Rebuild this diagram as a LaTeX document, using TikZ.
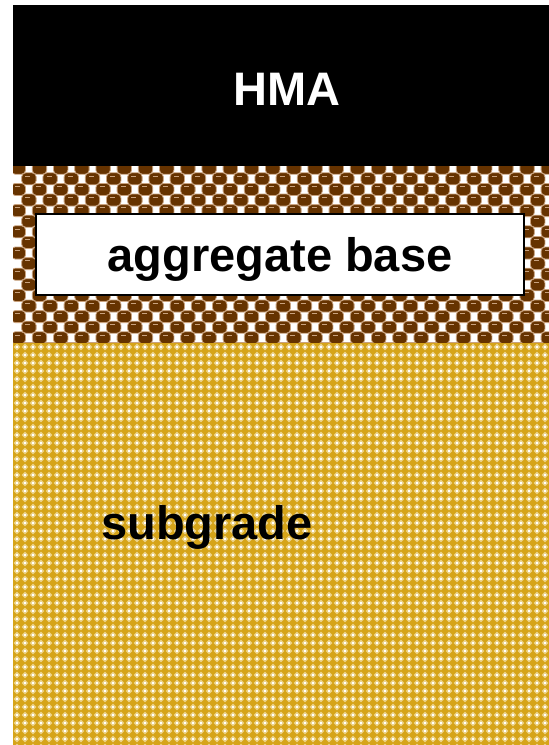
\documentclass[tikz,border=0pt]{standalone}
\usepackage{fontspec}
\setmainfont{Liberation Sans}
\definecolor{hmablack}{HTML}{000000}
\definecolor{basebrown}{HTML}{663300}
\definecolor{basetan}{HTML}{C9A27E}
\definecolor{subgold}{HTML}{D6A419}
\definecolor{subpale}{HTML}{EDD38A}
\tikzset{
  layertext/.style={font=\fontsize{47}{52}\selectfont\bfseries, inner sep=0pt},
  labelbox/.style={draw=black, line width=2pt, fill=white, minimum width=488pt, minimum height=81pt, inner sep=0pt},
  pebble/.style={fill=basebrown, draw=basetan, line width=0.8pt, rounded corners=4pt},
  pebbleshine/.style={draw=basetan, line width=1pt},
}
\begin{document}
\begin{tikzpicture}[x=1pt,y=-1pt]
  \useasboundingbox (0,0) rectangle (549,745);
  % HMA surface layer
  \fill[hmablack] (13,5) rectangle (549,166);
  % aggregate base: checker of pebbles
  \begin{scope}
    \clip (13,166) rectangle (549,343);
    \fill[white] (13,166) rectangle (549,343);
    \foreach \r in {0,...,17} {
      \foreach \c in {0,...,51} {
        \pgfmathtruncatemacro{\parity}{mod(\r+\c,2)}
        \ifnum\parity=0
          \pgfmathsetmacro{\cx}{13+10.6*\c+5.3}
          \pgfmathsetmacro{\cy}{166+10.6*\r+2}
          \draw[pebble] (\cx-7.2,\cy-5.8) rectangle (\cx+7.2,\cy+6.2);
          \draw[pebbleshine] (\cx-3.5,\cy-2.5) -- (\cx+1.5,\cy-2.5);
        \fi
      }
    }
  \end{scope}
  % subgrade: gold lattice
  \begin{scope}
    \clip (13,343) rectangle (549,745);
    \fill[subgold] (13,343) rectangle (549,745);
    \foreach \r in {0,...,50} {
      \foreach \c in {0,...,67} {
        \pgfmathsetmacro{\px}{13+8*\c+4}
        \pgfmathsetmacro{\py}{343+8*\r+4}
        \fill[subpale] (\px,\py-3.4) -- (\px+3.4,\py) -- (\px,\py+3.4) -- (\px-3.4,\py) -- cycle;
        \fill[white] (\px-0.9,\py-0.9) rectangle (\px+0.9,\py+0.9);
      }
    }
  \end{scope}
  % labels
  \node[layertext, text=white] (hma) at (287,89) {HMA};
  \node[labelbox] (basebox) at (280,254) {};
  \node[layertext] (base) at (280,259) {aggregate base};
  \node[layertext] (sub) at (207,527) {subgrade};
\end{tikzpicture}
\end{document}
